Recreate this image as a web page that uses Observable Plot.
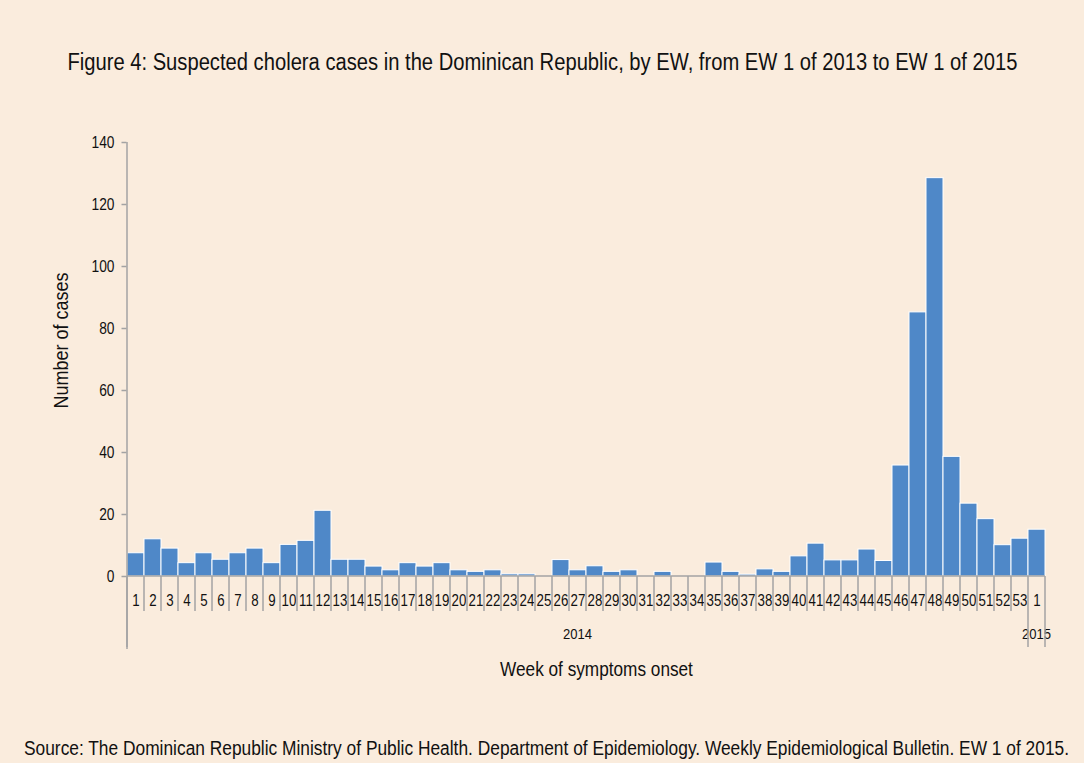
<!DOCTYPE html>
<html><head><meta charset="utf-8">
<script src="https://cdn.jsdelivr.net/npm/d3@7"></script>
<script src="https://cdn.jsdelivr.net/npm/@observablehq/plot@0.6"></script>
<style>
html,body{margin:0;padding:0;background:#FAECDD;}
#wrap{position:relative;width:1084px;height:763px;background:#FAECDD;font-family:"Liberation Sans",Arial,sans-serif;color:#111;overflow:hidden;}
#title{position:absolute;top:48px;left:0;width:1084px;text-align:center;font-size:23px;line-height:28px;}
#title span{display:inline-block;white-space:nowrap;transform-origin:50% 50%;}
#chart{position:absolute;top:100px;left:0;}
#caption{position:absolute;top:736px;left:24px;font-size:20px;line-height:24px;white-space:nowrap;}
#caption span{display:inline-block;white-space:nowrap;transform-origin:0 50%;}
</style></head>
<body>
<div id="wrap">
  <div id="title"><span>Figure 4: Suspected cholera cases in the Dominican Republic, by EW, from EW 1 of 2013 to EW 1 of 2015</span></div>
  <div id="chart"></div>
  <div id="caption"><span>Source: The Dominican Republic Ministry of Public Health. Department of Epidemiology. Weekly Epidemiological Bulletin. EW 1 of 2015.</span></div>
</div>
<script>
// ---- data ----
const years = ["2014", "2015"];
const weeks2014 = [1,2,3,4,5,6,7,8,9,10,11,12,13,14,15,16,17,18,19,20,21,22,23,24,25,26,27,28,29,30,31,32,33,34,35,36,37,38,39,40,41,42,43,44,45,46,47,48,49,50,51,52,53];
const cases2014 = [7.5,12,9,4.3,7.5,5.4,7.5,9,4.3,10.2,11.5,21.2,5.4,5.4,3.2,2,4.3,3.2,4.3,2,1.5,2,0.7,0.7,0,5.3,2,3.3,1.5,2,0,1.5,0,0,4.5,1.5,0.6,2.3,1.5,6.5,10.6,5.2,5.2,8.7,5,35.8,85.2,128.5,38.6,23.5,18.5,10.1,12.2];
const weeks2015 = [1];
const cases2015 = [15.1];
const yTicks = [0,20,40,60,80,100,120,140];
const yLabel = "Number of cases";
const xLabel = "Week of symptoms onset";

// ---- build table ----
const rows = [
  ...weeks2014.map((w,i) => ({year: years[0], week: w, cases: cases2014[i], key: years[0] + "-" + w})),
  ...weeks2015.map((w,i) => ({year: years[1], week: w, cases: cases2015[i], key: years[1] + "-" + w}))
];
const keys = rows.map(d => d.key);
const weekOf = new Map(rows.map(d => [d.key, d.week]));

const FONT = '"Liberation Sans",Arial,sans-serif';
const AXIS = "#A3A3A3";

function categoryAxis(index, scales, values, dimensions) {
  const x = scales.x, y = scales.y, bw = x.bandwidth();
  const y0 = y(0);
  const g = d3.create("svg:g").attr("font-family", FONT);
  const xStart = x(keys[0]), xEnd = x(keys[keys.length-1]) + bw;
  g.append("line").attr("x1", xStart).attr("x2", xEnd).attr("y1", y0).attr("y2", y0)
    .attr("stroke", AXIS).attr("stroke-width", 1.5);
  g.append("line").attr("x1", xStart).attr("x2", xStart).attr("y1", y(yTicks[yTicks.length-1])).attr("y2", y0 + 73)
    .attr("stroke", AXIS).attr("stroke-width", 1.5);
  const bounds = new Set();
  for (const yr of years) {
    const ks = keys.filter(k => k.startsWith(yr));
    bounds.add(x(ks[0]));
    const a = x(ks[0]), b = x(ks[ks.length-1]) + bw;
    g.append("text").attr("class", "yearlabel").attr("x", (a+b)/2).attr("y", y0 + 58).attr("dy", "0.35em")
      .attr("text-anchor", "middle").attr("font-size", 15).attr("fill", "#111").text(yr);
  }
  bounds.add(xEnd);
  for (const k of keys) {
    const xx = x(k);
    if (bounds.has(xx)) continue;
    g.append("line").attr("x1", xx).attr("x2", xx).attr("y1", y0).attr("y2", y0 + 35)
      .attr("stroke", AXIS).attr("stroke-width", 1.5);
  }
  for (const xx of bounds) {
    g.append("line").attr("x1", xx).attr("x2", xx).attr("y1", y0).attr("y2", y0 + 71)
      .attr("stroke", AXIS).attr("stroke-width", 1.5);
  }
  return g.node();
}

const chart = Plot.plot({
  width: 1084,
  height: 600,
  marginLeft: 126.5,
  marginRight: 38.5,
  marginTop: 42,
  marginBottom: 124,
  style: {background: "transparent", fontFamily: FONT, color: "#111", overflow: "visible"},
  x: {type: "band", domain: keys, padding: 0, label: null},
  y: {domain: [0, 140], label: null},
  marks: [
    Plot.barY(rows, {x: "key", y: "cases", fill: "#4F88C8", stroke: "white", strokeWidth: 1}),
    Plot.axisY({ticks: yTicks, tickSize: 5, tickPadding: 7.5, fontSize: 16, stroke: AXIS, strokeWidth: 1.5, label: null}),
    Plot.axisX({tickSize: 0, tickPadding: 18, fontSize: 16, tickFormat: k => weekOf.get(k), label: null}),
    categoryAxis,
    Plot.text([yLabel], {frameAnchor: "left", textAnchor: "middle", dx: -73, dy: -19, rotate: -90, lineAnchor: "top", fontSize: 20, fill: "#111"}),
    Plot.text([xLabel], {frameAnchor: "bottom", dx: 10, dy: 93, lineAnchor: "middle", fontSize: 20, fill: "#111"})
  ]
});
document.getElementById("chart").appendChild(chart);

// condensed look (the original uses a condensed sans face)
function condense(el, k) {
  const len = el.getComputedTextLength();
  if (len > 0) { el.setAttribute("textLength", (len * k).toFixed(2)); el.setAttribute("lengthAdjust", "spacingAndGlyphs"); }
}
chart.querySelectorAll('[aria-label="x-axis tick label"] text').forEach(t => condense(t, 0.83));
chart.querySelectorAll('[aria-label="y-axis tick label"] text').forEach(t => condense(t, 0.86));
chart.querySelectorAll('text.yearlabel').forEach(t => condense(t, 0.87));
chart.querySelectorAll('[aria-label="text"] text').forEach(t => {
  condense(t, t.textContent === xLabel ? 0.86 : 0.9);
});
function fitSpan(sel, target) {
  const s = document.querySelector(sel);
  const w = s.getBoundingClientRect().width;
  s.style.transform = `scaleX(${target / w})`;
}
fitSpan("#title span", 950);
fitSpan("#caption span", 1045);
</script>
</body></html>
